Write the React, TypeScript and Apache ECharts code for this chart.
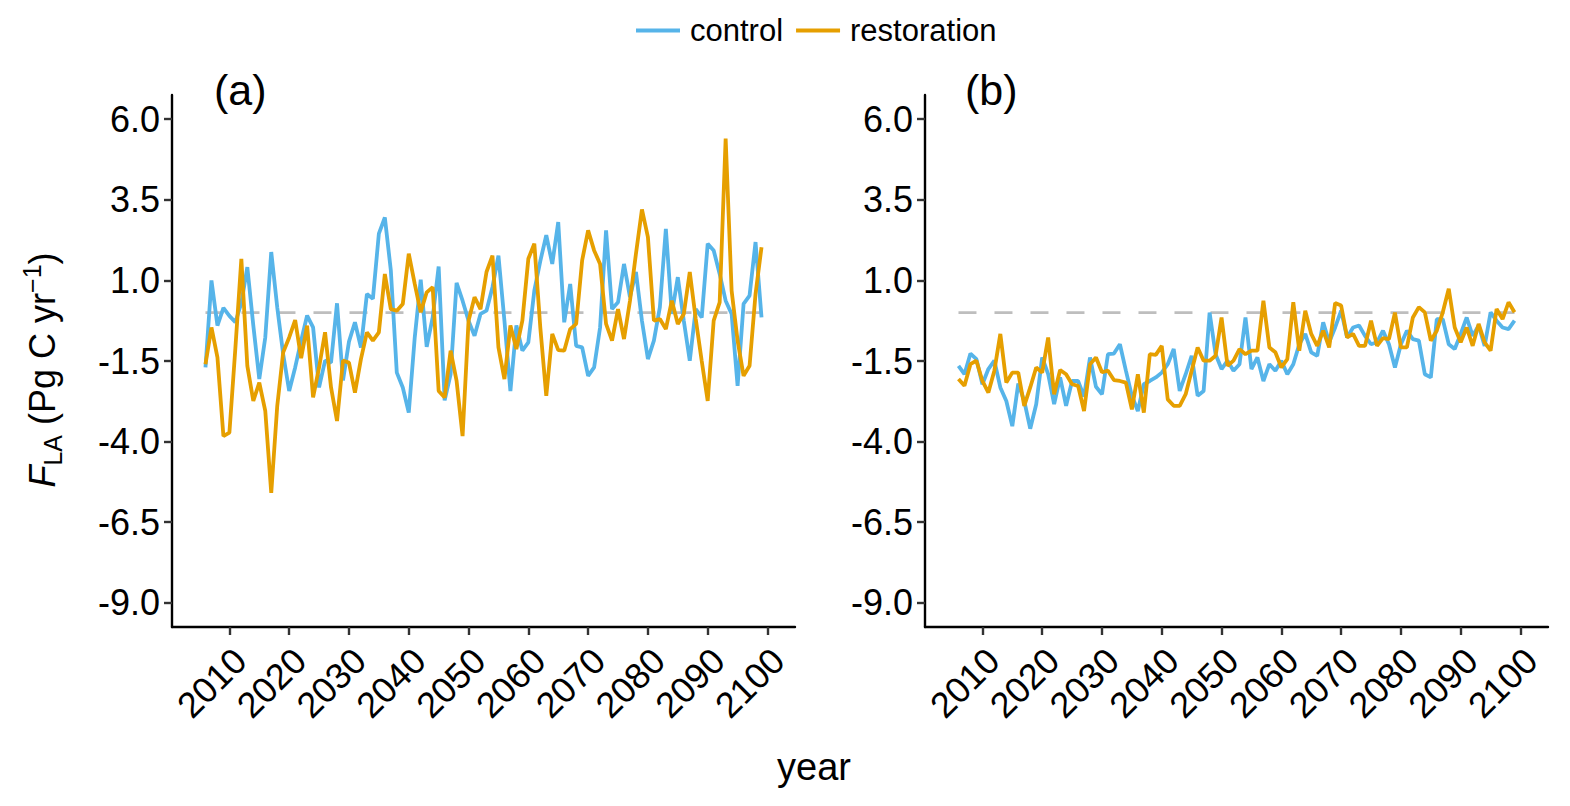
import React, { useEffect, useRef } from "react";
import * as echarts from "echarts";

const START_YEAR = 2006;
const years: number[] = [];
for (let y = START_YEAR; y <= 2099; y++) years.push(y);

const xTicks = [2010, 2020, 2030, 2040, 2050, 2060, 2070, 2080, 2090, 2100];
const yTicks = [-9, -6.5, -4, -1.5, 1, 3.5, 6];

// Panel (a)
const controlA = [
  -1.70, 1.00, -0.40, 0.15, -0.10, -0.30, 0.30, 1.41, -0.40, -2.06,
  -0.77, 1.88, 0.17, -1.29, -2.43, -1.70, -0.87, -0.09, -0.46, -2.32,
  -1.49, -1.55, 0.29, -2.10, -0.90, -0.30, -1.08, 0.58, 0.43, 2.45,
  2.95, 1.31, -1.86, -2.32, -3.10, -0.77, 1.02, -1.06, -0.15, 1.43,
  -2.72, -1.91, 0.92, 0.37, -0.25, -0.72, -0.04, 0.06, 0.79, 1.77,
  -0.25, -2.43, -0.40, -1.18, -0.92, 0.68, 1.60, 2.40, 1.51, 2.81,
  -0.30, 0.89, -1.03, -1.08, -1.96, -1.70, -0.46, 2.55, 0.11, 0.32,
  1.51, 0.48, 1.26, -0.25, -1.44, -0.87, 0.17, 2.60, -0.04, 1.10,
  -0.25, -1.49, 0.11, -0.15, 2.14, 1.93, 1.20, 0.37, -0.04, -2.27,
  0.27, 0.53, 2.19, -0.15,
];
const restorationA = [
  -1.60, -0.46, -1.39, -3.83, -3.72, -1.10, 1.67, -1.65, -2.74, -2.17,
  -3.05, -5.59, -2.90, -1.23, -0.77, -0.23, -1.41, -0.40, -2.63, -1.70,
  -0.61, -2.32, -3.36, -1.49, -1.55, -2.48, -1.44, -0.61, -0.87, -0.61,
  1.20, 0.11, 0.06, 0.27, 1.83, 0.89, 0.01, 0.63, 0.79, -2.43,
  -2.63, -1.18, -2.12, -3.83, -0.25, 0.48, 0.11, 1.26, 1.77, -1.08,
  -2.06, -0.40, -1.13, -0.25, 1.67, 2.14, -0.46, -2.58, -0.66, -1.16,
  -1.18, -0.51, -0.35, 1.62, 2.55, 1.93, 1.51, -0.35, -0.87, 0.11,
  -0.82, 0.37, 1.83, 3.20, 2.34, -0.25, -0.20, -0.51, 0.37, -0.35,
  -0.04, 1.26, -0.20, -1.50, -2.74, -0.25, 0.32, 5.40, 0.68, -0.87,
  -1.96, -1.65, 0.58, 2.03,
];

// Panel (b)
const controlB = [
  -1.65, -1.91, -1.27, -1.44, -2.22, -1.75, -1.49, -2.32, -2.74, -3.52,
  -2.20, -2.74, -3.60, -2.84, -1.39, -1.91, -2.84, -2.01, -2.89, -2.12,
  -2.12, -2.60, -1.39, -2.30, -2.53, -1.29, -1.27, -0.98, -1.80, -2.58,
  -3.05, -2.22, -2.12, -2.01, -1.86, -1.60, -1.13, -2.43, -1.91, -1.34,
  -2.58, -2.43, 0.00, -1.29, -1.75, -1.49, -1.80, -1.60, -0.15, -1.75,
  -1.39, -2.12, -1.60, -1.80, -1.49, -1.91, -1.60, -0.98, -0.66, -1.23,
  -1.34, -0.30, -0.92, -0.46, 0.06, -0.77, -0.46, -0.40, -0.72, -0.98,
  -0.92, -0.56, -0.98, -1.70, -0.98, -0.56, -0.82, -0.87, -1.91, -2.01,
  -0.20, -0.20, -0.98, -1.13, -0.66, -0.15, -0.72, -0.40, -1.03, 0.01,
  -0.25, -0.46, -0.51, -0.25,
];
const restorationB = [
  -2.06, -2.27, -1.60, -1.49, -2.12, -2.48, -1.80, -0.66, -2.17, -1.86,
  -1.86, -2.89, -2.32, -1.70, -1.86, -0.77, -2.53, -1.78, -1.91, -2.22,
  -2.27, -3.05, -1.60, -1.39, -1.85, -1.80, -2.09, -2.12, -2.17, -3.00,
  -1.91, -3.10, -1.29, -1.31, -1.03, -2.69, -2.89, -2.89, -2.53, -1.80,
  -1.08, -1.49, -1.49, -1.34, -0.15, -1.65, -1.49, -1.13, -1.29, -1.18,
  -1.18, 0.37, -1.08, -1.23, -1.70, -1.44, 0.32, -1.18, 0.06, -0.66,
  -1.03, -0.56, -1.08, 0.30, 0.22, -0.77, -0.66, -1.03, -1.03, -0.25,
  -1.03, -0.79, -0.82, 0.00, -1.08, -1.08, -0.15, 0.17, 0.01, -0.87,
  -0.56, 0.01, 0.74, -0.46, -0.92, -0.46, -1.03, -0.35, -0.92, -1.18,
  0.11, -0.20, 0.32, 0.01,
];

const referenceLine = [0, 0];

const BLUE = "#56B4E9";
const ORANGE = "#E69F00";
const FONT = "'Liberation Sans', Arial, Helvetica, sans-serif";
const TICK_FONT = 36;

const pair = (vals: number[]) => years.map((y, i) => [y, vals[i]]);

function xAxisFor(gridIndex: number) {
  return {
    type: "value",
    gridIndex,
    min: 2000.4,
    max: 2104.6,
    splitLine: { show: false },
    axisLine: { show: true, onZero: false, lineStyle: { color: "#000", width: 2.4 } },
    axisTick: {
      show: true,
      customValues: xTicks,
      length: 8,
      lineStyle: { color: "#333", width: 2.4 },
    },
    axisLabel: {
      customValues: xTicks,
      rotate: 45,
      margin: 17,
      align: "right",
      verticalAlign: "top",
      lineHeight: 30,
      fontSize: TICK_FONT,
      color: "#000",
      fontFamily: FONT,
      formatter: (v: number) => String(v),
    },
  };
}

function yAxisFor(gridIndex: number) {
  return {
    type: "value",
    gridIndex,
    min: -9.75,
    max: 6.75,
    splitLine: { show: false },
    axisLine: { show: true, onZero: false, lineStyle: { color: "#000", width: 2.4 } },
    axisTick: {
      show: true,
      customValues: yTicks,
      length: 8,
      lineStyle: { color: "#333", width: 2.4 },
    },
    axisLabel: {
      customValues: yTicks,
      margin: 12,
      fontSize: TICK_FONT,
      color: "#000",
      fontFamily: FONT,
      formatter: (v: number) => v.toFixed(1),
    },
  };
}

function lineSeries(name: string, vals: number[], color: string, idx: number) {
  return {
    name,
    type: "line",
    xAxisIndex: idx,
    yAxisIndex: idx,
    data: pair(vals),
    symbol: "none",
    showSymbol: false,
    lineStyle: { color, width: 3.8 },
    itemStyle: { color },
    z: 3,
  };
}

function refSeries(idx: number) {
  return {
    name: "zero" + idx,
    type: "line",
    xAxisIndex: idx,
    yAxisIndex: idx,
    data: [
      [years[0], referenceLine[0]],
      [years[years.length - 1], referenceLine[1]],
    ],
    symbol: "none",
    silent: true,
    lineStyle: { color: "#BEBEBE", width: 2.8, type: [18, 18] },
    z: 2,
  };
}

export default function App() {
  const ref = useRef<HTMLDivElement>(null);
  useEffect(() => {
    if (!ref.current) return;
    const chart = echarts.init(ref.current, undefined, { renderer: "svg" });
    chart.setOption({
      animation: false,
      backgroundColor: "#fff",
      textStyle: { fontFamily: FONT },
      legend: {
        top: 10,
        left: 631,
        data: [
          { name: "control", icon: "rect" },
          { name: "restoration", icon: "rect" },
        ],
        itemWidth: 44,
        itemHeight: 4,
        itemGap: 13,
        textStyle: { fontSize: 31, color: "#000", fontFamily: FONT, padding: [0, 0, 0, 5] },
      },
      grid: [
        { left: 172, right: 775, top: 95, bottom: 179, containLabel: false },
        { left: 925, right: 22, top: 95, bottom: 179, containLabel: false },
      ],
      xAxis: [xAxisFor(0), xAxisFor(1)],
      yAxis: [yAxisFor(0), yAxisFor(1)],
      series: [
        refSeries(0),
        refSeries(1),
        lineSeries("control", controlA, BLUE, 0),
        lineSeries("restoration", restorationA, ORANGE, 0),
        lineSeries("control", controlB, BLUE, 1),
        lineSeries("restoration", restorationB, ORANGE, 1),
      ],
      graphic: [
        {
          type: "text",
          left: 214,
          top: 68,
          style: { text: "(a)", fontSize: 43, fill: "#000", fontFamily: FONT },
        },
        {
          type: "text",
          left: 965,
          top: 68,
          style: { text: "(b)", fontSize: 43, fill: "#000", fontFamily: FONT },
        },
        {
          type: "text",
          x: 814,
          y: 767,
          style: {
            text: "year",
            fontSize: 38,
            fill: "#000",
            fontFamily: FONT,
            align: "center",
            verticalAlign: "middle",
          },
        },
        {
          type: "text",
          x: 42,
          y: 370,
          rotation: Math.PI / 2,
          style: {
            text: "{f|F}{s|LA}{n| (Pg C yr}{p|−1}{n|)}",
            align: "center",
            verticalAlign: "middle",
            fill: "#000",
            fontFamily: FONT,
            rich: {
              f: { fontSize: 36, fontStyle: "italic", lineHeight: 46, fill: "#000", fontFamily: FONT },
              n: { fontSize: 36, lineHeight: 46, fill: "#000", fontFamily: FONT },
              s: { fontSize: 25, lineHeight: 25, verticalAlign: "bottom", fill: "#000", fontFamily: FONT },
              p: { fontSize: 25, lineHeight: 25, verticalAlign: "top", fill: "#000", fontFamily: FONT },
            },
          },
        },
      ],
    });
    return () => chart.dispose();
  }, []);
  return (
    <div
      ref={ref}
      style={{ position: "absolute", left: 0, top: 0, width: 1570, height: 806 }}
    />
  );
}
